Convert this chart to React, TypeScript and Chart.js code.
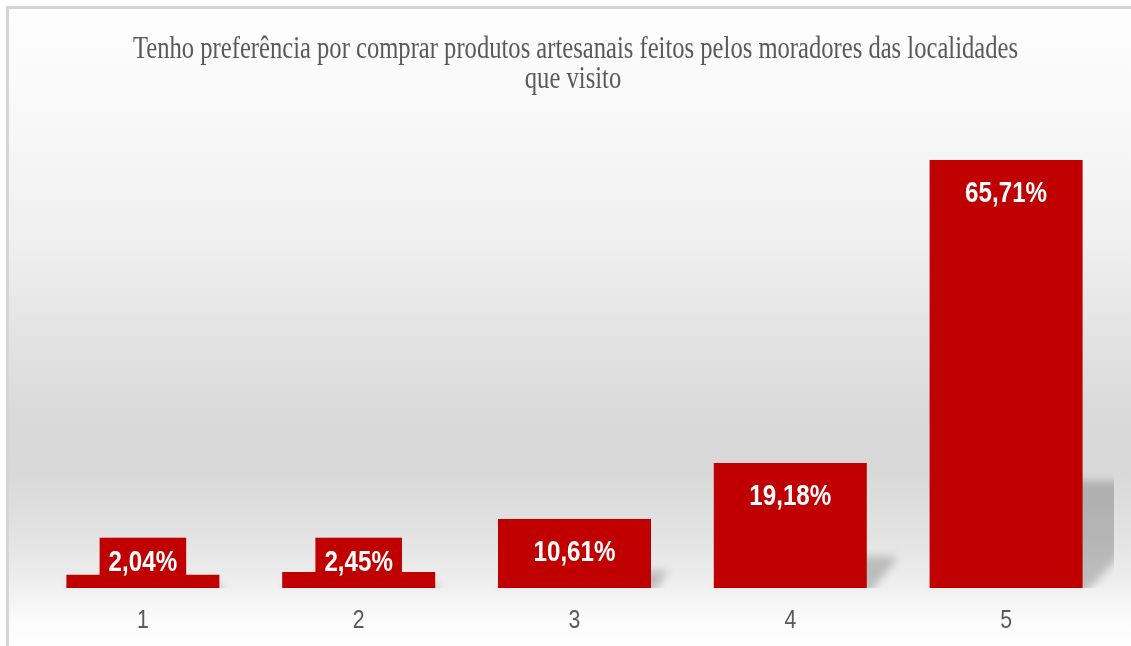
import React, { useEffect, useRef } from 'react';
import { Chart, registerables } from 'chart.js';

Chart.register(...registerables);

// ---- data ----
const categories: string[] = ['1', '2', '3', '4', '5'];
const values: number[] = [2.04, 2.45, 10.61, 19.18, 65.71];
const titleLines: string[] = [
  'Tenho preferência por comprar produtos artesanais feitos pelos moradores das localidades',
  'que visito',
];
const yMin = 0;
const yMax = 70;

const BAR_COLOR = '#C00000';
const TEXT_GRAY = '#595959';

const fmt = (v: number) => v.toFixed(2).replace('.', ',') + '%';

const backgroundPlugin = {
  id: 'bgGradient',
  beforeDraw(chart: any) {
    const { ctx, width, height } = chart;
    const g = ctx.createLinearGradient(0, 0, 0, height);
    g.addColorStop(0, '#fdfdfd');
    g.addColorStop(0.15, '#f9f9f9');
    g.addColorStop(0.37, '#efefef');
    g.addColorStop(0.5, '#e4e4e4');
    g.addColorStop(0.63, '#dadada');
    g.addColorStop(0.72, '#d8d8d8');
    g.addColorStop(0.83, '#e3e3e3');
    g.addColorStop(0.9, '#eeeeee');
    g.addColorStop(0.96, '#fbfbfb');
    g.addColorStop(1, '#fefefe');
    ctx.save();
    ctx.fillStyle = g;
    ctx.fillRect(0, 0, width, height);
    ctx.restore();
  },
};

const shadowPlugin = {
  id: 'barShadow',
  beforeDatasetsDraw(chart: any) {
    const { ctx, chartArea } = chart;
    const meta = chart.getDatasetMeta(0);
    ctx.save();
    ctx.beginPath();
    ctx.rect(chartArea.left, chartArea.top, chartArea.right - chartArea.left, chartArea.bottom - chartArea.top);
    ctx.clip();
    ctx.filter = 'blur(4px)';
    ctx.fillStyle = 'rgba(0,0,0,0.2)';
    meta.data.forEach((el: any) => {
      const { x, y, base, width } = el;
      const h = base - y;
      const d = h * 0.25;
      const l = x - width / 2;
      const r = x + width / 2;
      ctx.beginPath();
      ctx.moveTo(l, base + 6);
      ctx.lineTo(r + 2, base + 6);
      ctx.lineTo(r + d, base - d);
      ctx.lineTo(l + d, base - d);
      ctx.closePath();
      ctx.fill();
    });
    ctx.restore();
  },
};

const labelPlugin = {
  id: 'valueLabels',
  afterDatasetsDraw(chart: any) {
    const { ctx } = chart;
    const meta = chart.getDatasetMeta(0);
    const sx = 0.806;
    ctx.save();
    ctx.font = 'bold 30px "Liberation Sans", Arial, sans-serif';
    meta.data.forEach((el: any, i: number) => {
      const text = fmt(values[i]);
      const w = ctx.measureText(text).width * sx;
      const boxTop = Math.min(el.y + 9, el.base - 50.3);
      ctx.fillStyle = BAR_COLOR;
      ctx.fillRect(el.x - w / 2 - 9, boxTop, w + 18, 38);
      ctx.save();
      ctx.translate(el.x, boxTop + 33.4);
      ctx.scale(sx, 1);
      ctx.textAlign = 'center';
      ctx.textBaseline = 'alphabetic';
      ctx.fillStyle = '#ffffff';
      ctx.fillText(text, 0, 0);
      ctx.restore();
    });
    ctx.restore();
  },
  afterDraw(chart: any) {
    const { ctx } = chart;
    const xs = chart.scales.x;
    // category labels
    ctx.save();
    ctx.font = '25px "Liberation Sans", Arial, sans-serif';
    ctx.fillStyle = TEXT_GRAY;
    ctx.textAlign = 'center';
    ctx.textBaseline = 'alphabetic';
    categories.forEach((c, i) => {
      const px = xs.getPixelForValue(i);
      ctx.save();
      ctx.translate(px, 619.3);
      ctx.scale(0.85, 1);
      ctx.fillText(c, 0, 0);
      ctx.restore();
    });
    ctx.restore();
    // title
    ctx.save();
    ctx.font = '32px "Liberation Serif", "Times New Roman", serif';
    ctx.fillStyle = TEXT_GRAY;
    ctx.textAlign = 'center';
    ctx.textBaseline = 'alphabetic';
    const w1 = ctx.measureText(titleLines[0]).width;
    const tsx = 885 / w1;
    const pos = [
      [566.5, 49.3],
      [564, 79.3],
    ];
    titleLines.forEach((line, i) => {
      ctx.save();
      ctx.translate(pos[i][0], pos[i][1]);
      ctx.scale(tsx, 1);
      ctx.fillText(line, 0, 0);
      ctx.restore();
    });
    ctx.restore();
  },
};

function BarChart() {
  const ref = useRef<HTMLCanvasElement | null>(null);
  useEffect(() => {
    if (!ref.current) return;
    const chart = new Chart(ref.current, {
      type: 'bar',
      data: {
        labels: categories,
        datasets: [
          {
            data: values,
            backgroundColor: BAR_COLOR,
            borderWidth: 0,
            barPercentage: 0.709,
            categoryPercentage: 1,
          },
        ],
      },
      options: {
        responsive: false,
        animation: false,
        layout: { padding: { left: 26, right: 17, top: 123, bottom: 58 } },
        scales: {
          x: { display: false },
          y: { display: false, min: yMin, max: yMax },
        },
        plugins: {
          legend: { display: false },
          tooltip: { enabled: false },
          title: { display: false },
        },
      },
      plugins: [backgroundPlugin, shadowPlugin, labelPlugin],
    });
    return () => chart.destroy();
  }, []);
  return <canvas ref={ref} width={1122} height={637} style={{ display: 'block', width: 1122, height: 637 }} />;
}

export default function App() {
  return (
    <div
      style={{
        position: 'fixed',
        left: 6,
        top: 6,
        width: 1125,
        height: 640,
        borderTop: '3px solid #d6d6d6',
        borderLeft: '3px solid #d6d6d6',
        boxSizing: 'border-box',
        overflow: 'hidden',
      }}
    >
      <BarChart />
    </div>
  );
}
